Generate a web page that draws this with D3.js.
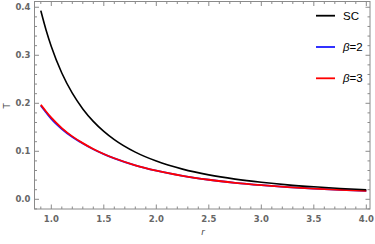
<!DOCTYPE html>
<html><head><meta charset="utf-8">
<script src="https://cdn.jsdelivr.net/npm/d3@7"></script>
<style>html,body{margin:0;padding:0;background:#fff;}svg{display:block;}</style>
</head><body>
<svg id="c" width="375" height="244"></svg>
<script>
const rValues   = [0.9, 0.95, 1.0, 1.1, 1.2, 1.3, 1.4, 1.5, 1.6, 1.8, 2.0, 2.25, 2.5, 2.75, 3.0, 3.25, 3.5, 3.75, 4.0];
const scValues  = [0.393, 0.3527, 0.3183, 0.2631, 0.2210, 0.1883, 0.1624, 0.1415, 0.1243, 0.0982, 0.0796, 0.0629, 0.0509, 0.0421, 0.0354, 0.0301, 0.0260, 0.0226, 0.0199];
const beta2Values = [0.195, 0.181, 0.1675, 0.1465, 0.1298, 0.1163, 0.1043, 0.0941, 0.0854, 0.0708, 0.0597, 0.0489, 0.0407, 0.0344, 0.0295, 0.0255, 0.0223, 0.0196, 0.0174];
const beta3Values = [0.197, 0.183, 0.170, 0.1484, 0.1311, 0.1170, 0.1047, 0.0943, 0.0855, 0.0709, 0.0597, 0.0489, 0.0407, 0.0344, 0.0295, 0.0255, 0.0223, 0.0196, 0.0174];
const xTickLabels = ["1.0", "1.5", "2.0", "2.5", "3.0", "3.5", "4.0"];
const yTickLabels = ["0.0", "0.1", "0.2", "0.3", "0.4"];
const seriesNames = ["SC", "β=2", "β=3"];
const seriesColors = ["#000000", "#1a1aff", "#ff0000"];

const svg = d3.select("#c");
const L = 34.5, R = 370, T = 1.5, B = 209;
const x = d3.scaleLinear().domain([0.84, 4.035]).range([L, R]);
const y = d3.scaleLinear().domain([-0.0202, 0.412]).range([B, T]);
const frameColor = "#8a8a8a", labelColor = "#666";

// frame
svg.append("rect").attr("x", L).attr("y", T).attr("width", R - L).attr("height", B - T)
  .attr("fill", "none").attr("stroke", frameColor).attr("stroke-width", 1);

const xMajor = xTickLabels.map(Number);
const xMinor = d3.range(9, 41).map(d => d / 10).filter(d => !xMajor.some(m => Math.abs(m - d) < 1e-9));
const yMajor = yTickLabels.map(Number);
const yMinor = d3.range(-1, 21).map(d => d / 50).filter(d => !yMajor.some(m => Math.abs(m - d) < 1e-9));

const tk = svg.append("g").attr("stroke", frameColor).attr("stroke-width", 1);
function xt(vals, len) {
  vals.forEach(v => {
    const px = x(v);
    tk.append("line").attr("x1", px).attr("x2", px).attr("y1", B).attr("y2", B - len);
    tk.append("line").attr("x1", px).attr("x2", px).attr("y1", T).attr("y2", T + len);
  });
}
function yt(vals, len) {
  vals.forEach(v => {
    const py = y(v);
    tk.append("line").attr("y1", py).attr("y2", py).attr("x1", L).attr("x2", L + len);
    tk.append("line").attr("y1", py).attr("y2", py).attr("x1", R).attr("x2", R - len);
  });
}
xt(xMajor, 4.5); xt(xMinor, 2.5); yt(yMajor, 4.5); yt(yMinor, 2.5);

svg.append("g").selectAll("text").data(xTickLabels).join("text")
  .attr("x", d => x(+d)).attr("y", B + 13).attr("text-anchor", "middle")
  .attr("font-family", "DejaVu Sans, sans-serif").attr("font-size", 8.5).attr("font-weight", "bold")
  .attr("fill", labelColor).text(d => d);
svg.append("g").selectAll("text").data(yTickLabels).join("text")
  .attr("x", L - 4).attr("y", d => y(+d) + 3).attr("text-anchor", "end")
  .attr("font-family", "DejaVu Sans, sans-serif").attr("font-size", 8.5).attr("font-weight", "bold")
  .attr("fill", labelColor).text(d => d);

svg.append("text").attr("transform", "translate(10,106) rotate(-90)").attr("text-anchor", "middle")
  .attr("font-family", "DejaVu Sans, sans-serif").attr("font-size", 8.5).attr("fill", "#444").text("T");
svg.append("text").attr("x", 203).attr("y", 235).attr("text-anchor", "middle")
  .attr("font-family", "DejaVu Sans, sans-serif").attr("font-size", 8.5).attr("font-style", "italic").attr("fill", "#444").text("r");

const line = d3.line().x(d => x(d[0])).y(d => y(d[1])).curve(d3.curveMonotoneX);
const series = [scValues, beta2Values, beta3Values];
const widths = [1.6, 1.8, 1.8];
const drawOrder = [1, 2, 0];
drawOrder.forEach(i => {
  svg.append("path").datum(rValues.map((r, k) => [r, series[i][k]]))
    .attr("d", line).attr("fill", "none").attr("stroke", seriesColors[i]).attr("stroke-width", widths[i]);
});

// legend
const legY = [15.7, 47, 78.3];
seriesNames.forEach((n, i) => {
  svg.append("line").attr("x1", 316).attr("x2", 335).attr("y1", legY[i]).attr("y2", legY[i])
    .attr("stroke", seriesColors[i]).attr("stroke-width", 1.8);
  const t = svg.append("text").attr("x", 343).attr("y", legY[i] + 4)
    .attr("font-family", "Liberation Sans, Arial, sans-serif").attr("font-size", 11.5).attr("fill", "#000");
  if (n.startsWith("β")) {
    t.append("tspan").attr("font-style", "italic").text("β");
    t.append("tspan").text(n.slice(1));
  } else t.text(n);
});
</script>
</body></html>
